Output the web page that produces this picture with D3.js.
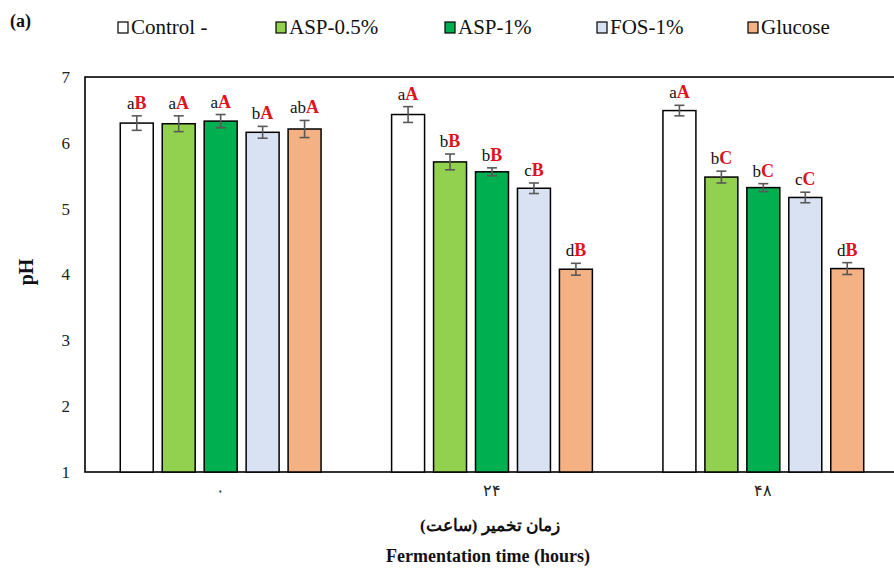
<!DOCTYPE html>
<html>
<head>
<meta charset="utf-8">
<script src="https://cdn.jsdelivr.net/npm/d3@7"></script>
<style>
  html, body { margin: 0; padding: 0; background: #fff; }
  svg { display: block; }
  text { font-family: "Liberation Serif", "Times New Roman", serif; }
</style>
</head>
<body>
<svg id="chart" width="894" height="568"></svg>
<script>
// Fermentation time groups (tick labels in Persian digits)
const groups = ["۰", "۲۴", "۴۸"];
const seriesNames = ["Control -", "ASP-0.5%", "ASP-1%", "FOS-1%", "Glucose"];
const seriesColors = ["#ffffff", "#92d050", "#00b050", "#d9e2f3", "#f4b183"];

// Mean pH per treatment at 0, 24, 48 h
const controlPH = [6.30, 6.43, 6.49];
const asp05PH   = [6.29, 5.71, 5.48];
const asp1PH    = [6.33, 5.56, 5.32];
const fos1PH    = [6.16, 5.31, 5.17];
const glucosePH = [6.21, 4.08, 4.09];

// Standard deviations
const controlSD = [0.11, 0.12, 0.08];
const asp05SD   = [0.12, 0.12, 0.09];
const asp1SD    = [0.10, 0.06, 0.06];
const fos1SD    = [0.09, 0.08, 0.08];
const glucoseSD = [0.13, 0.09, 0.09];

// Significance letters: lowercase (between treatments), uppercase (between times)
const controlLow = ["a", "a", "a"],  controlUp = ["B", "A", "A"];
const asp05Low   = ["a", "b", "b"],  asp05Up   = ["A", "B", "C"];
const asp1Low    = ["a", "b", "b"],  asp1Up    = ["A", "B", "C"];
const fos1Low    = ["b", "c", "c"],  fos1Up    = ["A", "B", "C"];
const glucoseLow = ["ab", "d", "d"], glucoseUp = ["A", "B", "B"];

const yTicks = [1, 2, 3, 4, 5, 6, 7];

const means = [controlPH, asp05PH, asp1PH, fos1PH, glucosePH];
const sds = [controlSD, asp05SD, asp1SD, fos1SD, glucoseSD];
const lows = [controlLow, asp05Low, asp1Low, fos1Low, glucoseLow];
const ups = [controlUp, asp05Up, asp1Up, fos1Up, glucoseUp];

const rows = [];
groups.forEach((g, gi) => {
  seriesNames.forEach((s, si) => {
    rows.push({ group: g, series: s, si, value: means[si][gi], sd: sds[si][gi],
                low: lows[si][gi], up: ups[si][gi] });
  });
});

const svg = d3.select("#chart");
const plotLeft = 85, plotRight = 899, plotTop = 77, plotBottom = 472;

const x0 = d3.scaleBand().domain(groups).range([plotLeft, plotRight])
  .paddingInner(0.26).paddingOuter(0.13);
const x1 = d3.scaleBand().domain(seriesNames).range([0, x0.bandwidth()])
  .paddingInner(9 / 42);
const y = d3.scaleLinear().domain([1, 7]).range([plotBottom, plotTop]);
const color = d3.scaleOrdinal().domain(seriesNames).range(seriesColors);

// Plot frame
svg.append("rect")
  .attr("x", plotLeft).attr("y", plotTop)
  .attr("width", plotRight - plotLeft).attr("height", plotBottom - plotTop)
  .attr("fill", "none").attr("stroke", "#000").attr("stroke-width", 1.6);

// Y axis
const yAxis = svg.append("g")
  .attr("transform", `translate(${plotLeft},0)`)
  .call(d3.axisLeft(y).tickValues(yTicks).tickSize(0).tickPadding(15).tickFormat(d3.format("d")));
yAxis.select(".domain").remove();
yAxis.selectAll("text")
  .attr("font-family", "Liberation Serif, Times New Roman, serif")
  .attr("font-size", 17).attr("fill", "#222");

// X axis
const xAxis = svg.append("g")
  .attr("transform", `translate(0,${plotBottom})`)
  .call(d3.axisBottom(x0).tickSize(0).tickPadding(13));
xAxis.select(".domain").remove();
xAxis.selectAll("text")
  .attr("font-family", "DejaVu Sans, sans-serif")
  .attr("font-size", 16).attr("fill", "#222");

// Bars
const barG = svg.append("g");
barG.selectAll("rect").data(rows).join("rect")
  .attr("x", d => x0(d.group) + x1(d.series))
  .attr("y", d => y(d.value))
  .attr("width", x1.bandwidth())
  .attr("height", d => y(1) - y(d.value))
  .attr("fill", d => color(d.series))
  .attr("stroke", "#000").attr("stroke-width", 1.5);

// Error bars
const errG = svg.append("g").attr("stroke", "#595959").attr("stroke-width", 1.6);
rows.forEach(d => {
  const cx = x0(d.group) + x1(d.series) + x1.bandwidth() / 2;
  const y1 = y(d.value + d.sd), y2 = y(d.value - d.sd);
  errG.append("line").attr("x1", cx).attr("x2", cx).attr("y1", y1).attr("y2", y2);
  errG.append("line").attr("x1", cx - 5).attr("x2", cx + 5).attr("y1", y1).attr("y2", y1);
  errG.append("line").attr("x1", cx - 5).attr("x2", cx + 5).attr("y1", y2).attr("y2", y2);
});

// Significance letters
const lab = svg.append("g").selectAll("text").data(rows).join("text")
  .attr("x", d => x0(d.group) + x1(d.series) + x1.bandwidth() / 2)
  .attr("y", d => y(d.value + d.sd) - 7)
  .attr("text-anchor", "middle")
  .attr("font-size", 17);
lab.append("tspan").attr("fill", "#111").text(d => d.low);
lab.append("tspan").attr("fill", "#e0121b").attr("font-weight", "bold")
  .attr("font-size", 18).text(d => d.up);

// Axis titles
svg.append("text")
  .attr("transform", `translate(33,272) rotate(-90)`)
  .attr("text-anchor", "middle")
  .attr("font-weight", "bold").attr("font-size", 20).attr("fill", "#111")
  .text("pH");

svg.append("text")
  .attr("x", (plotLeft + plotRight) / 2 - 2).attr("y", 531)
  .attr("text-anchor", "middle")
  .attr("font-family", "DejaVu Sans, sans-serif")
  .attr("font-weight", "bold").attr("font-size", 17).attr("fill", "#111")
  .attr("direction", "rtl")
  .text("زمان تخمیر (ساعت)");

svg.append("text")
  .attr("x", (plotLeft + plotRight) / 2 - 4).attr("y", 562)
  .attr("text-anchor", "middle")
  .attr("font-weight", "bold").attr("font-size", 18).attr("fill", "#111")
  .text("Fermentation time (hours)");

// Panel label
svg.append("text")
  .attr("x", 10).attr("y", 27)
  .attr("font-weight", "bold").attr("font-size", 18).attr("fill", "#111")
  .text("(a)");

// Legend
const legendX = [118, 276, 445, 597, 748];
const leg = svg.append("g").selectAll("g").data(seriesNames).join("g")
  .attr("transform", (d, i) => `translate(${legendX[i]},22)`);
leg.append("rect")
  .attr("width", 10).attr("height", 11)
  .attr("fill", d => color(d)).attr("stroke", "#000").attr("stroke-width", 1.2);
leg.append("text")
  .attr("x", 13).attr("y", 12)
  .attr("font-size", 21).attr("fill", "#111")
  .text(d => d);
</script>
</body>
</html>
